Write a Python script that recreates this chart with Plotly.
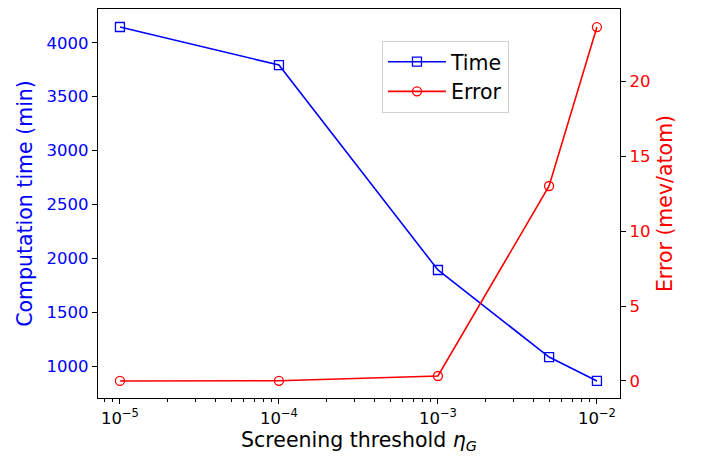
import plotly.graph_objects as go

thresholds = [1e-5, 1e-4, 1e-3, 5e-3, 1e-2]
time_min = [4146, 3793, 1891, 1083, 861]
error_mev = [0.0, 0.01, 0.33, 13.03, 23.65]
x_tickvals = [1e-5, 1e-4, 1e-3, 1e-2]
x_ticktext = ["10<sup>−5</sup>", "10<sup>−4</sup>", "10<sup>−3</sup>", "10<sup>−2</sup>"]
x_minor_mantissas = [2, 3, 4, 5, 6, 7, 8, 9]
x_minor_decades = [1e-6, 1e-5, 1e-4, 1e-3]
y1_ticks = [1000, 1500, 2000, 2500, 3000, 3500, 4000]
y2_ticks = [0, 5, 10, 15, 20]

x_minor = [m * d for d in x_minor_decades for m in x_minor_mantissas]

font_family = "DejaVu Sans"
TICK = 16.5
LABEL = 20.5

fig = go.Figure()
fig.add_trace(go.Scatter(
    x=thresholds, y=time_min, name="Time", mode="lines+markers",
    line=dict(color="blue", width=1.6),
    marker=dict(symbol="square-open", size=9, color="blue", line=dict(width=1.3)),
    yaxis="y"))
fig.add_trace(go.Scatter(
    x=thresholds, y=error_mev, name="Error", mode="lines+markers",
    line=dict(color="red", width=1.6),
    marker=dict(symbol="circle-open", size=9, color="red", line=dict(width=1.3)),
    yaxis="y2"))

fig.update_layout(
    width=701, height=457,
    margin=dict(l=98, r=81, t=9, b=59),
    plot_bgcolor="white", paper_bgcolor="white",
    font=dict(family=font_family, size=TICK, color="black"),
    showlegend=True,
    legend=dict(x=0.544, y=0.918, xanchor="left", yanchor="top",
                bgcolor="rgba(255,255,255,0.8)", bordercolor="#d0d0d0", borderwidth=1,
                font=dict(size=LABEL, family=font_family), itemwidth=58),
    xaxis=dict(type="log", range=[-5.138, -1.855],
               tickvals=x_tickvals, ticktext=x_ticktext,
               ticks="outside", ticklen=5, tickcolor="black",
               showline=True, linecolor="black", linewidth=1.2, mirror=True,
               showgrid=False, zeroline=False,
               minor=dict(tickvals=x_minor, ticks="outside", ticklen=3, tickcolor="black", showgrid=False),
               tickfont=dict(size=TICK, color="black"),
               title=dict(text="Screening threshold <i>η</i><sub><i>G</i></sub>",
                          font=dict(size=LABEL, color="black"), standoff=0)),
    yaxis=dict(range=[703, 4313], tickvals=y1_ticks,
               ticks="outside", ticklen=5, tickcolor="black",
               showline=True, linecolor="black", linewidth=1.2,
               showgrid=False, zeroline=False,
               tickfont=dict(size=TICK, color="blue"),
               title=dict(text="Computation time (min)", font=dict(size=LABEL, color="blue"), standoff=8)),
    yaxis2=dict(range=[-1.14, 24.86], tickvals=y2_ticks, overlaying="y", side="right",
                ticks="outside", ticklen=5, tickcolor="black",
                showline=True, linecolor="black", linewidth=1.2,
                showgrid=False, zeroline=False,
                tickfont=dict(size=TICK, color="red"),
                title=dict(text="Error (mev/atom)", font=dict(size=LABEL, color="red"), standoff=8)),
)

fig.write_html("out.html")
